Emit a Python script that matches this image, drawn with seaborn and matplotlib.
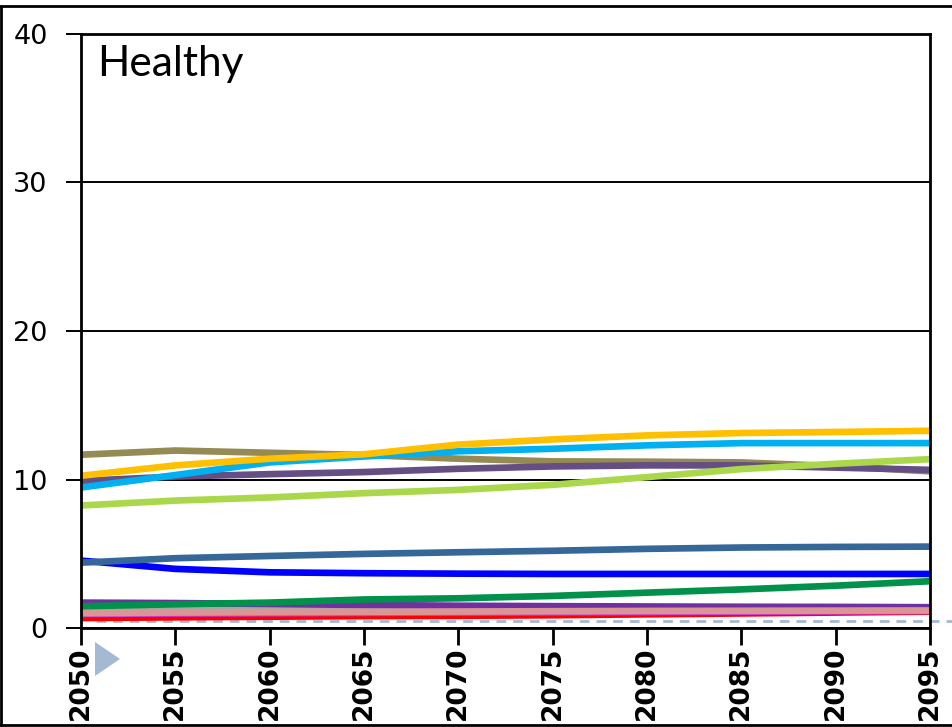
import numpy as np
import pandas as pd
import seaborn as sns
import matplotlib.pyplot as plt
from matplotlib.lines import Line2D
from matplotlib.patches import Polygon

# Years on the horizontal axis
years = [2050, 2055, 2060, 2065, 2070, 2075, 2080, 2085, 2090, 2095]

# One series per pathway (values per 5-year step)
red = [0.67, 0.72, 0.76, 0.80, 0.82, 0.86, 0.92, 0.98, 1.04, 1.10]
magenta = [0.95, 0.98, 1.00, 1.02, 1.04, 1.06, 1.08, 1.10, 1.12, 1.14]
blue = [4.54, 3.98, 3.75, 3.69, 3.66, 3.64, 3.64, 3.64, 3.64, 3.64]
steel = [4.40, 4.70, 4.85, 4.99, 5.10, 5.20, 5.33, 5.42, 5.46, 5.48]
gray = [1.23, 1.26, 1.30, 1.33, 1.33, 1.32, 1.30, 1.28, 1.26, 1.25]
purple = [1.71, 1.68, 1.62, 1.55, 1.50, 1.47, 1.45, 1.43, 1.42, 1.40]
green = [1.46, 1.60, 1.71, 1.92, 2.00, 2.16, 2.38, 2.60, 2.85, 3.15]
pink = [1.00, 1.04, 1.07, 1.09, 1.11, 1.13, 1.15, 1.16, 1.17, 1.18]
olive = [11.67, 11.95, 11.80, 11.65, 11.40, 11.22, 11.20, 11.15, 10.90, 10.55]
plum = [9.90, 10.20, 10.36, 10.50, 10.72, 10.88, 10.95, 10.95, 10.80, 10.65]
sky = [9.46, 10.30, 11.15, 11.55, 11.90, 12.07, 12.30, 12.45, 12.45, 12.45]
gold = [10.25, 10.95, 11.40, 11.70, 12.35, 12.70, 12.97, 13.13, 13.20, 13.28]
lime = [8.25, 8.58, 8.79, 9.08, 9.30, 9.64, 10.16, 10.70, 11.06, 11.37]

# Reference level shown as a dashed line
reference_level = 0.5

series = {
    "red": red, "magenta": magenta, "blue": blue, "steel": steel,
    "gray": gray, "purple": purple, "green": green, "pink": pink,
    "olive": olive, "plum": plum, "sky": sky, "gold": gold, "lime": lime,
}
colors = {
    "red": "#ff0000", "magenta": "#c83ce0", "blue": "#0000ff",
    "steel": "#366799", "gray": "#a6a6a6", "purple": "#7030a0",
    "green": "#00914a", "pink": "#d99694", "olive": "#948a54",
    "plum": "#654e84", "sky": "#00b0f0", "gold": "#ffc000",
    "lime": "#abd84b",
}

df = pd.concat(
    [pd.DataFrame({"year": years, "value": v, "series": k}) for k, v in series.items()],
    ignore_index=True,
)

sns.set_style("white")
plt.rcParams["font.family"] = ["DejaVu Sans"]

fig = plt.figure(figsize=(9.53, 7.27), dpi=100)
ax = fig.add_axes([81 / 953, 1 - 628 / 727, 849 / 953, 594 / 727])

sns.lineplot(
    data=df, x="year", y="value", hue="series", palette=colors,
    hue_order=list(series.keys()), linewidth=4.8, legend=False, ax=ax,
    solid_capstyle="round",
)

ax.set_xlim(2050, 2095)
ax.set_ylim(0, 40)
ax.set_xticks(years)
ax.set_yticks([0, 10, 20, 30, 40])
ax.set_xlabel("")
ax.set_ylabel("")

# horizontal grid
ax.yaxis.grid(True, color="black", linewidth=1.4)
ax.xaxis.grid(False)
ax.set_axisbelow(True)

for s in ax.spines.values():
    s.set_visible(True)
    s.set_color("black")
    s.set_linewidth(2.0)

ax.tick_params(axis="y", direction="out", length=11, width=1.4, pad=13,
               labelsize=19.5, colors="black", left=True)
ax.tick_params(axis="x", direction="out", length=12, width=2.0, pad=1.5,
               labelsize=19, colors="black", bottom=True)
for lab in ax.get_xticklabels():
    lab.set_rotation(90)
    lab.set_fontweight("bold")

# dashed reference line running past the right edge
ax.plot([2050.8, 2096.3], [reference_level, reference_level], color="#a3b9d1",
        linewidth=2, linestyle=(0, (3.5, 2.5)), clip_on=False, zorder=1)

ax.text(0.019, 0.929, "Healthy", transform=ax.transAxes, fontsize=30.5,
        family=["Lato", "DejaVu Sans"], va="baseline", ha="left", color="black")

# small play marker below the axis
fig.patches.append(Polygon(
    [(95 / 953, 1 - 642 / 727), (95 / 953, 1 - 676 / 727), (120 / 953, 1 - 659 / 727)],
    closed=True, facecolor="#a4b9d2", edgecolor="none", transform=fig.transFigure,
    zorder=5))

# outer frame (top, left, bottom)
for xs, ys in [((0, 1), (1 - 6 / 727, 1 - 6 / 727)),
               ((1.5 / 953, 1.5 / 953), (1 - 6 / 727, 1 - 725 / 727)),
               ((0, 1), (1 - 725 / 727, 1 - 725 / 727))]:
    fig.lines.append(Line2D(xs, ys, color="black", linewidth=2, transform=fig.transFigure))

fig.savefig("out.png", dpi=100)
